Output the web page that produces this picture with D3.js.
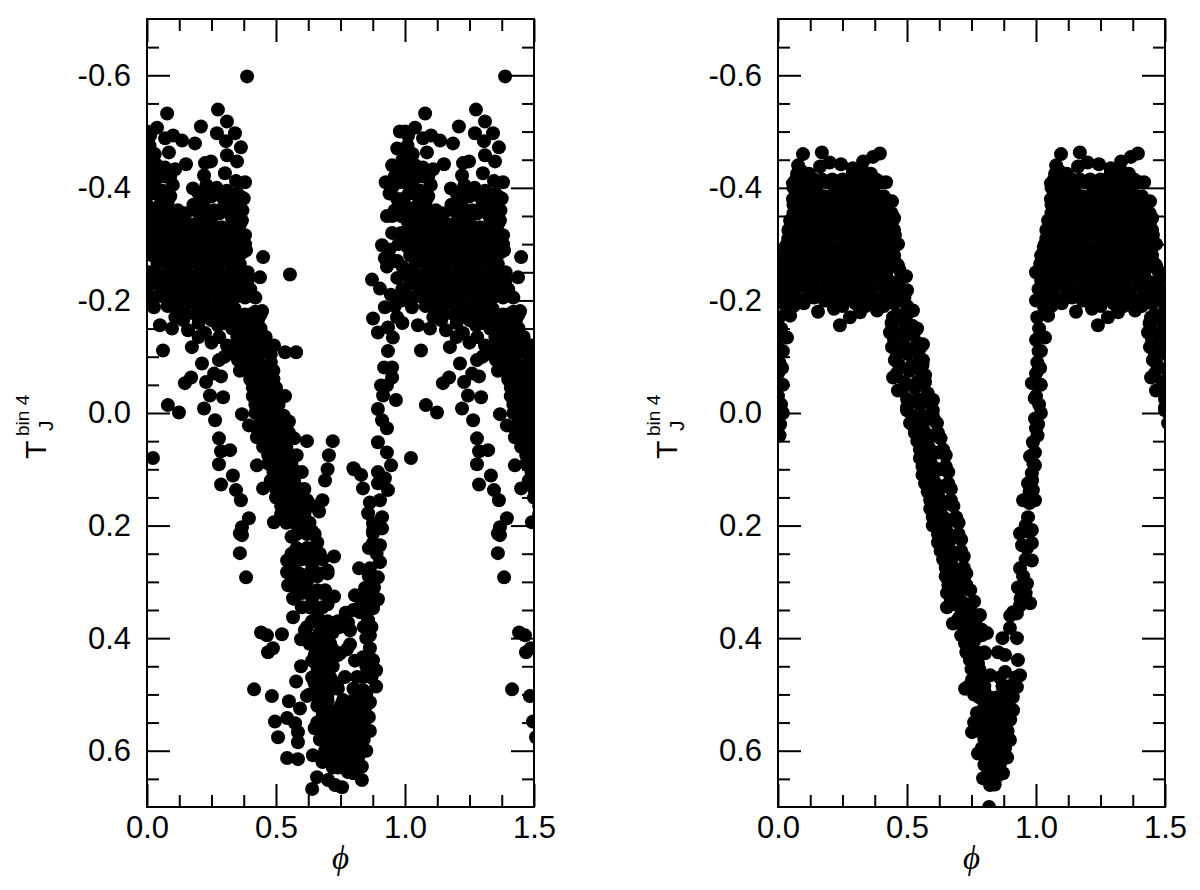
<!DOCTYPE html>
<html>
<head>
<meta charset="utf-8">
<script src="https://cdn.jsdelivr.net/npm/d3@7"></script>
<style>
html,body{margin:0;padding:0;background:#fff}
svg{display:block}
text{font-family:"Liberation Sans",Arial,sans-serif;fill:#000}
</style>
</head>
<body>
<svg id="chart" width="1200" height="890"></svg>
<script>
const leftTopScatter = [[.388,-.598],[.078,-.532],[.275,-.539],[.31,-.518],[.039,-.507],[.209,-.509],[.271,-.497],[.341,-.497],[.101,-.493],[.07,-.488],[.136,-.484],[.186,-.479],[.306,-.483],[.364,-.472],[.012,-.493],[.085,-.463],[.31,-.458],[.349,-.447],[.248,-.447],[.225,-.444],[.151,-.442],[.07,-.436],[.109,-.433],[.302,-.426],[.221,-.422],[.38,-.41],[.345,-.412],[.178,-.399],[.375,-.381],[.368,-.342],[.38,-.316],[.384,-.289],[.45,-.277],[.554,-.246],[.043,-.277],[0,-.5],[.01,-.475],[.005,-.45],[.02,-.43],[0,-.41],[.015,-.39],[.03,-.41],[.05,-.42]];
const leftBlock = [[.03,-.40],[.06,-.395],[.1,-.405],[.2,-.39],[.23,-.405],[.27,-.4],[.31,-.395],[.35,-.39],[0,-.37],[.04,-.365],[.08,-.375],[.12,-.36],[.18,-.37],[.22,-.375],[.26,-.36],[.3,-.37],[.34,-.365],[.37,-.36],[.01,-.34],[.05,-.345],[.09,-.335],[.13,-.34],[.17,-.335],[.21,-.345],[.25,-.34],[.29,-.33],[.33,-.345],[.36,-.335],[0,-.31],[.03,-.315],[.07,-.305],[.11,-.31],[.15,-.315],[.19,-.305],[.23,-.31],[.27,-.315],[.31,-.305],[.35,-.31],[.38,-.3],[.02,-.28],[.065,-.285],[.1,-.275],[.14,-.285],[.18,-.28],[.22,-.275],[.26,-.285],[.3,-.28],[.34,-.275],[.37,-.285],[.03,-.25],[.07,-.245],[.11,-.255],[.15,-.25],[.19,-.245],[.23,-.255],[.27,-.25],[.31,-.245],[.35,-.255],[.39,-.25],[0,-.22],[.05,-.225],[.09,-.215],[.13,-.22],[.17,-.215],[.21,-.225],[.25,-.22],[.29,-.215],[.33,-.225],[.08,-.19],[.12,-.185],[.16,-.195],[.2,-.19],[.24,-.185],[.28,-.195],[.32,-.19],[.01,-.2],[.005,-.25],[.015,-.315],[.11,-.17],[.14,-.165],[.2,-.16],[.25,-.165],[.3,-.16],[.34,-.15]];
const leftLowerScatter = [[.027,-.188],[.05,-.156],[.097,-.15],[.062,-.111],[.159,-.147],[.174,-.117],[.275,-.156],[.225,-.142],[.31,-.12],[.279,-.094],[.213,-.088],[.287,-.065],[.171,-.063],[.147,-.053],[.229,-.055],[.295,-.028],[.244,-.031],[.221,-.008],[.081,-.014],[.124,-.001],[.264,.013],[.368,.002],[.395,.022],[.426,.043],[.279,.045],[.287,.068],[.322,.066],[.023,.08],[.426,.093],[.279,.091],[.333,.111],[.287,.127],[.45,.134],[.345,.137],[.364,.155],[.395,.187],[.492,.194],[.368,.203],[.368,.217],[.535,-.108],[.535,-.03],[.492,-.12],[.446,-.181],[.438,-.241],[.353,-.094],[.25,-.125],[.3,-.1],[.26,-.07]];
const leftBand = [[.28,-.22],[.32,-.215],[.36,-.225],[.4,-.22],[.3,-.18],[.34,-.185],[.38,-.175],[.42,-.18],[.33,-.15],[.37,-.155],[.41,-.145],[.44,-.15],[.36,-.12],[.39,-.115],[.43,-.125],[.46,-.12],[.38,-.09],[.41,-.095],[.44,-.085],[.48,-.09],[.40,-.06],[.43,-.065],[.46,-.055],[.49,-.06],[.41,-.03],[.44,-.025],[.47,-.035],[.5,-.03],[.42,0],[.45,.005],[.48,-.005],[.51,0],[.53,.005],[.43,.03],[.46,.035],[.49,.025],[.52,.03],[.55,.035],[.45,.06],[.48,.065],[.51,.055],[.54,.06],[.47,.09],[.5,.095],[.53,.085],[.56,.09],[.48,.12],[.51,.125],[.54,.115],[.57,.12],[.5,.15],[.53,.155],[.56,.145],[.59,.15],[.62,.155],[.52,.18],[.55,.185],[.58,.175],[.61,.18],[.62,.05],[.72,.05],[.705,.075],[.70,.10],[.69,.12],[.68,.155],[.667,.175],[.80,.098],[.83,.11],[.578,-.108]];
const leftTrough = [[.36,.249],[.384,.292],[.36,.214],[.725,.255],[.442,.39],[.465,.395],[.523,.393],[.469,.425],[.488,.418],[.597,.45],[.578,.477],[.415,.491],[.484,.503],[.55,.512],[.593,.525],[.62,.503],[.496,.548],[.543,.542],[.574,.551],[.585,.567],[.508,.576],[.585,.585],[.543,.613],[.585,.615],[.643,.608],[.659,.647],[.702,.652],[.729,.661],[.756,.665],[.64,.668],[.833,.652],[.779,.638],[.833,.628],[.597,.402],[.612,.386],[.566,.363],[.566,.329],[.547,.306],[.543,.283],[.543,.262],[.903,.265],[.822,.276],[.864,.276],[.895,.292],[.845,.311],[.806,.324],[.895,.331],[.725,.326],[.876,.347],[.826,.354],[.857,.368],[.779,.372],[.864,.395],[.787,.411],[.864,.418],[.876,.439],[.888,.457],[.888,.486],[.837,.469],[.864,.514],[.853,.541],[.864,.565],[.818,.581],[.814,.604],[.876,.208],[.903,.203],[.876,.231],[.903,.235],[.66,.52],[.68,.54],[.7,.56],[.72,.53],[.74,.55],[.76,.57],[.78,.54],[.8,.56],[.82,.53],[.67,.58],[.69,.6],[.71,.59],[.73,.61],[.75,.6],[.77,.62],[.79,.6],[.81,.62],[.83,.59],[.65,.56],[.7,.51],[.75,.52],[.8,.51],[.78,.58],[.72,.57],[.68,.62],[.74,.63],[.8,.64],[.84,.56],[.83,.52],[.64,.34],[.66,.36],[.62,.38],[.68,.38],[.65,.4],[.7,.4],[.66,.42],[.68,.44],[.64,.44],[.7,.46],[.66,.46],[.72,.42],[.65,.48],[.68,.49],[.72,.48],[.63,.5],[.66,.5],[.7,.5],[.74,.37],[.56,.22],[.6,.2],[.64,.21],[.58,.24],[.62,.24],[.66,.23],[.57,.27],[.6,.26],[.64,.27],[.68,.26],[.58,.3],[.62,.3],[.66,.29],[.7,.28],[.6,.32],[.64,.33],[.68,.32],[.57,.33],[.66,.35],[.7,.34],[.75,.38],[.787,.386],[.84,.38],[.748,.427],[.837,.434],[.775,.42],[.806,.44],[.767,.469],[.814,.469],[.736,.48],[.837,.492],[.76,.51],[.8,.49],[.77,.355],[.8,.35],[.84,.35]];
const leftRise = [[.911,-.298],[.922,-.275],[.872,-.237],[.903,-.221],[.922,-.188],[.969,-.17],[.876,-.168],[.895,-.143],[.934,-.152],[.953,-.134],[.934,-.11],[.919,-.081],[.95,-.081],[.95,-.063],[.907,-.049],[.93,-.049],[.915,-.031],[.965,-.023],[.895,-.007],[.911,.013],[.93,.027],[.895,.052],[.93,.07],[.946,.093],[.802,.1],[.895,.105],[.922,.116],[.837,.134],[.934,.137],[.895,.125],[.864,.159],[.903,.155],[.857,.178],[.911,.185],[.876,.196],[.911,.205],[.876,.214],[.925,-.41],[.94,-.39],[.95,-.44],[.97,-.47],[.98,-.5],[.96,-.36],[.93,-.35],[.95,-.32],[.975,-.3],[.98,-.41],[.99,-.45],[.985,-.35],[.99,-.26],[.96,-.27],[.93,-.26],[.945,-.21],[.985,-.2],[.99,-.16],[.95,-.4],[.97,-.38],[.95,-.35],[.97,-.27],[.985,-.32],[.99,-.38],[.96,-.42],[.98,-.44],[.97,-.24],[.94,-.29],[.96,-.19],[.99,-.22],[.86,.24],[.89,.25],[.86,.29],[.88,.31],[.85,.33],[.83,.335],[.88,.33],[.85,.34],[.85,.4],[.87,.38],[.85,.45],[.87,.47],[.85,.5],[.83,.5],[.85,.52],[.86,.54],[.84,.58],[.85,.6]];
// Further measurements of the dense regions, one row per T level: [T, [phases]].
const leftDenseRows = [[-.46,[.01,.03]],[-.44,[.02,.04]],[-.42,[0,.02,.07,.09]],[-.385,[.05,.09,.21,.25,.29,.33,.36]],[-.355,[.02,.06,.1,.15,.2,.24,.28,.32,.36]],[-.325,[.03,.07,.11,.15,.19,.23,.27,.31,.35]],[-.295,[.01,.05,.09,.13,.17,.21,.25,.29,.33,.37]],[-.265,[.04,.08,.12,.16,.2,.24,.28,.32,.36]],[-.235,[.02,.07,.11,.15,.19,.23,.27,.31,.35,.39]],[-.205,[.03,.07,.11,.15,.19,.23,.27,.31,.34,.38,.42]],[-.175,[.15,.19,.23,.27,.31,.35,.4,.44]],[-.165,[.32,.36,.4,.43]],[-.135,[.2,.28,.35,.39,.43,.46]],[-.105,[.33,.37,.41,.44,.48]],[-.075,[.36,.39,.42,.45,.49]],[-.045,[.41,.44,.47,.5]],[-.015,[.42,.45,.48,.51]],[.015,[.44,.47,.5,.53,.55]],[.045,[.45,.48,.51,.54,.57]],[.075,[.47,.5,.53,.56,.58]],[.105,[.49,.52,.55,.58,.6]],[.135,[.5,.53,.56,.59,.61]],[.165,[.52,.55,.58,.61,.64]],[.195,[.54,.57,.6,.63]],[.215,[.58,.62,.65]],[.25,[.56,.6,.63,.67]],[.285,[.56,.59,.63,.67,.7]],[.315,[.58,.62,.66,.69]],[.345,[.6,.63,.68]],[.37,[.64,.67,.7]],[.39,[.67,.72]],[.41,[.63,.68,.71]],[.43,[.65,.7,.74]],[.45,[.66,.69,.72]],[.47,[.64,.68,.71]],[.49,[.66,.7,.74]],[.53,[.68,.7,.74,.77,.79,.81]],[.55,[.66,.7,.72,.76,.8,.83]],[.57,[.68,.71,.75,.79,.82]],[.59,[.7,.74,.77,.8]],[.61,[.7,.72,.76,.8,.82]],[.63,[.72,.76,.78]]];

const rightEdge = [[.097,-.46],[.17,-.463],[.078,-.44],[.074,-.425],[.163,-.438],[.2,-.445],[.244,-.442],[.33,-.447],[.395,-.461],[.368,-.455],[.29,-.427],[.419,-.41],[.442,-.376],[.45,-.346],[.453,-.316],[.465,-.3],[.465,-.262],[.496,-.243],[.5,-.218],[.523,-.182],[.539,-.15],[.562,-.122],[.562,-.094],[.57,-.067],[.601,-.023],[.616,.018],[.434,-.143],[.442,-.117],[.453,-.094],[.446,-.063],[.465,-.04],[.5,-.005],[.512,.018],[.155,-.18],[.217,-.185],[.24,-.156],[.279,-.17],[.318,-.179],[.384,-.182],[.446,-.17],[.074,-.196],[.132,-.209],[.047,-.173],[.035,-.134],[.019,-.11],[.016,-.08],[.019,-.05],[.019,0],[.008,.02],[.058,-.408],[.058,-.38],[.047,-.342],[.035,-.3],[.016,-.265],[0,-.2],[.005,-.17],[.012,-.15],[0,-.13],[.01,-.11],[.005,-.09],[0,-.07],[.008,-.05],[0,-.03],[.012,-.015],[0,.01],[.006,.04],[.012,-.08],[.02,-.24],[.03,-.19]];
const rightBlock = [[.09,-.43],[.12,-.425],[.29,-.435],[.33,-.43],[.36,-.425],[.06,-.4],[.09,-.405],[.12,-.395],[.15,-.4],[.19,-.41],[.22,-.4],[.26,-.395],[.3,-.405],[.33,-.4],[.37,-.395],[.4,-.41],[.06,-.37],[.1,-.365],[.13,-.375],[.17,-.37],[.2,-.365],[.24,-.375],[.27,-.37],[.31,-.365],[.34,-.375],[.38,-.37],[.42,-.375],[.05,-.34],[.08,-.345],[.12,-.335],[.15,-.34],[.19,-.345],[.22,-.335],[.26,-.34],[.29,-.345],[.33,-.335],[.36,-.34],[.4,-.345],[.44,-.335],[.04,-.31],[.07,-.305],[.11,-.315],[.14,-.31],[.18,-.305],[.21,-.315],[.25,-.31],[.28,-.305],[.32,-.315],[.35,-.31],[.39,-.305],[.43,-.315],[.02,-.28],[.06,-.285],[.09,-.275],[.13,-.28],[.16,-.285],[.2,-.275],[.23,-.28],[.27,-.285],[.3,-.275],[.34,-.28],[.37,-.285],[.41,-.275],[.45,-.28],[0,-.25],[.03,-.255],[.07,-.245],[.1,-.25],[.14,-.255],[.17,-.245],[.21,-.25],[.24,-.255],[.28,-.245],[.31,-.25],[.35,-.255],[.38,-.245],[.42,-.25],[.47,-.255],[.01,-.22],[.05,-.215],[.08,-.225],[.12,-.22],[.15,-.215],[.19,-.225],[.22,-.22],[.26,-.215],[.29,-.225],[.33,-.22],[.36,-.215],[.4,-.225],[.44,-.22],[.48,-.215],[.06,-.19],[.1,-.195],[.18,-.2],[.21,-.195],[.25,-.19],[.3,-.195],[.34,-.19],[.37,-.195],[.41,-.19],[.45,-.195],[.5,-.19]];
const rightFall = [[.44,-.16],[.48,-.165],[.52,-.155],[.45,-.13],[.49,-.135],[.54,-.125],[.46,-.1],[.5,-.105],[.55,-.095],[.46,-.07],[.51,-.075],[.56,-.065],[.48,-.04],[.53,-.045],[.58,-.035],[.5,-.01],[.55,-.015],[.6,-.005],[.52,.02],[.56,.025],[.61,.015],[.54,.05],[.58,.055],[.63,.045],[.55,.08],[.59,.085],[.65,.075],[.56,.11],[.6,.115],[.66,.105],[.58,.14],[.62,.145],[.67,.135],[.59,.17],[.63,.175],[.68,.165],[.6,.2],[.65,.205],[.7,.195],[.62,.23],[.66,.235],[.71,.225],[.64,.26],[.67,.265],[.72,.255],[.65,.29],[.69,.295],[.73,.285],[.655,.32],[.7,.325],[.745,.315],[.655,.345],[.71,.35],[.75,.355],[.783,.359],[.678,.374],[.72,.38],[.76,.375],[.79,.385],[.725,.409],[.76,.405],[.81,.391],[.744,.439],[.775,.445],[.802,.427]];
const rightFallCentre = [[.505,-.14],[.52,-.11],[.53,-.08],[.555,-.05],[.575,-.02],[.585,.01],[.6,.04],[.62,.07],[.63,.1],[.64,.13],[.655,.16],[.67,.19],[.685,.22],[.695,.25],[.705,.28],[.715,.31],[.73,.34],[.75,.37],[.565,.04],[.575,.07],[.585,.1],[.6,.13],[.615,.16],[.625,.19],[.64,.22],[.655,.25],[.67,.28],[.68,.31],[.69,.34]];
const rightBottom = [[.725,.49],[.752,.474],[.79,.47],[.822,.466],[.86,.47],[.88,.46],[.92,.47],[.938,.466],[.76,.5],[.8,.495],[.88,.49],[.926,.487],[.771,.533],[.8,.52],[.83,.525],[.86,.515],[.89,.52],[.911,.528],[.76,.55],[.79,.555],[.82,.545],[.85,.55],[.88,.555],[.9,.545],[.752,.567],[.8,.58],[.83,.585],[.86,.575],[.899,.581],[.775,.605],[.81,.61],[.84,.605],[.87,.615],[.888,.612],[.795,.649],[.83,.635],[.86,.64],[.872,.64],[.822,.661],[.84,.66],[.818,.7],[.93,.439],[.926,.4],[.899,.382],[.853,.425],[.88,.43],[.87,.4],[.926,.356],[.9,.36],[.911,.354],[.938,.342],[.977,.338],[.93,.31],[.965,.303],[.938,.276],[.984,.262],[.946,.235],[.984,.231],[.938,.214],[.984,.208],[.969,.185],[.95,.155],[.996,.155],[.988,.137],[.969,.125],[.984,.107],[.996,.093],[.977,.077],[.988,.052],[.996,.07],[1,.027],[.996,.01],[.984,-.053],[.995,-.026],[.96,.32],[.95,.29],[.96,.26],[.965,.24],[.97,.21],[.96,.2],[.975,.16],[.985,.12],[.99,.09],[.975,.14],[.95,.31],[.94,.33]];
const rightDenseRows = [[-.415,[.07,.1,.14,.17,.21,.25,.28,.31,.35,.38]],[-.385,[.07,.11,.14,.18,.21,.25,.28,.32,.35,.39,.41]],[-.355,[.06,.09,.13,.16,.2,.23,.27,.3,.34,.37,.41,.44]],[-.325,[.04,.08,.11,.15,.18,.22,.25,.29,.32,.36,.39,.43,.45]],[-.295,[.03,.06,.1,.13,.17,.2,.24,.27,.31,.34,.38,.41,.45]],[-.265,[.02,.05,.09,.12,.16,.19,.23,.26,.3,.33,.37,.4,.44,.46]],[-.235,[.02,.04,.07,.11,.14,.18,.21,.25,.28,.32,.35,.39,.43,.47]],[-.205,[.03,.07,.11,.14,.18,.22,.26,.3,.33,.37,.41,.45,.49]],[-.175,[.46,.5]],[-.145,[.45,.49,.53]],[-.115,[.46,.5,.55]],[-.085,[.47,.52,.56]],[-.055,[.49,.54,.57]],[-.025,[.5,.54,.59]],[.005,[.52,.56,.6]],[.035,[.53,.57,.62]],[.065,[.55,.59,.64]],[.095,[.56,.6,.65]],[.125,[.57,.61,.66]],[.155,[.59,.63,.67]],[.185,[.6,.64,.69]],[.215,[.62,.66,.7]],[.245,[.63,.67,.71]],[.275,[.65,.68,.72]],[.305,[.66,.7,.73]],[.335,[.67,.71,.76]],[.365,[.7,.74,.77]],[.395,[.71,.75,.79]],[.425,[.73,.77,.8]],[.455,[.75,.78]],[.485,[.74,.78,.8,.87,.9]],[.505,[.78,.82,.85,.88,.91]],[.535,[.78,.82,.85,.88]],[.565,[.78,.81,.84,.87,.89]],[.595,[.79,.82,.85,.88]],[.625,[.8,.83,.86]],[.645,[.81,.85]]];

const phaseTicksMajor = [0, 0.5, 1.0, 1.5];
const phaseTicksMinor = [0.125,0.25,0.375,0.625,0.75,0.875,1.125,1.25,1.375];
const tTicksMajor = [-0.6,-0.4,-0.2,0,0.2,0.4,0.6];
const tTicksMinor = [-0.65,-0.55,-0.5,-0.45,-0.35,-0.3,-0.25,-0.15,-0.1,-0.05,0.05,0.1,0.15,0.25,0.3,0.35,0.45,0.5,0.55,0.65];

const expandRows = rows => rows.flatMap(([t,ps]) => ps.map(p => [p,t]));
const leftSeries = [...leftTopScatter,...leftBlock,...leftLowerScatter,...leftBand,...leftTrough,...leftRise,...expandRows(leftDenseRows)];
const rightSeries = [...rightEdge,...rightBlock,...rightFall,...rightFallCentre,...rightBottom,...expandRows(rightDenseRows)];

const svg = d3.select("#chart");
const plotTop = 19, plotBottom = 807, tickFont = 31;
const yScale = d3.scaleLinear().domain([-0.7,0.7]).range([plotTop,plotBottom]);
const fmt = v => d3.format(".1f")(v).replace("\u2212","-");

function panel(id, x0, x1, series){
  const x = d3.scaleLinear().domain([0,1.5]).range([x0,x1]);
  const y = yScale;
  const g = svg.append("g");
  g.append("clipPath").attr("id",id).append("rect")
    .attr("x",x0).attr("y",plotTop).attr("width",x1-x0).attr("height",plotBottom-plotTop);
  const folded = series.concat(series.filter(d=>d[0]<=0.53).map(d=>[d[0]+1,d[1]]));
  g.append("g").attr("clip-path",`url(#${id})`).selectAll("circle").data(folded).join("circle")
    .attr("cx",d=>x(d[0])).attr("cy",d=>y(d[1])).attr("r",7).attr("fill","#000");
  g.append("rect").attr("x",x0).attr("y",plotTop).attr("width",x1-x0).attr("height",plotBottom-plotTop)
    .attr("fill","none").attr("stroke","#000").attr("stroke-width",2);

  const axes = [
    [d3.axisBottom(x).tickValues(phaseTicksMajor).tickSize(-23).tickSizeOuter(0), `translate(0,${plotBottom})`, 9],
    [d3.axisBottom(x).tickValues(phaseTicksMinor).tickSize(-12).tickSizeOuter(0).tickFormat(""), `translate(0,${plotBottom})`, 0],
    [d3.axisTop(x).tickValues(phaseTicksMajor).tickSize(-23).tickSizeOuter(0).tickFormat(""), `translate(0,${plotTop})`, 0],
    [d3.axisTop(x).tickValues(phaseTicksMinor).tickSize(-12).tickSizeOuter(0).tickFormat(""), `translate(0,${plotTop})`, 0],
    [d3.axisLeft(y).tickValues(tTicksMajor).tickSize(-23).tickSizeOuter(0), `translate(${x0},0)`, 16],
    [d3.axisLeft(y).tickValues(tTicksMinor).tickSize(-12).tickSizeOuter(0).tickFormat(""), `translate(${x0},0)`, 0],
    [d3.axisRight(y).tickValues(tTicksMajor).tickSize(-23).tickSizeOuter(0).tickFormat(""), `translate(${x1},0)`, 0],
    [d3.axisRight(y).tickValues(tTicksMinor).tickSize(-12).tickSizeOuter(0).tickFormat(""), `translate(${x1},0)`, 0]
  ];
  axes.forEach(([axis,tr,pad])=>{
    if(pad) axis.tickFormat(fmt).tickPadding(pad);
    const a = g.append("g").attr("transform",tr).call(axis);
    a.select(".domain").remove();
    a.selectAll("line").attr("stroke","#000").attr("stroke-width",2);
    a.selectAll("text").attr("font-size",tickFont).attr("font-family",'"Liberation Sans",Arial,sans-serif').attr("fill","#000");
  });

  g.append("text").attr("x",(x0+x1)/2).attr("y",869).attr("text-anchor","middle")
    .attr("font-size",33).attr("font-style","italic")
    .style("font-family",'"Liberation Serif",serif').text("\u03d5");

  const lx = x0-147;
  g.append("text").attr("transform",`translate(${46+lx},459) rotate(-90)`).attr("font-size",30).text("T");
  g.append("text").attr("transform",`translate(${29+lx},436) rotate(-90)`).attr("font-size",19).text("bin 4");
  g.append("text").attr("transform",`translate(${53+lx},431) rotate(-90)`).attr("font-size",21).text("J");
}
panel("clipL",147,534,leftSeries);
panel("clipR",778,1165,rightSeries);
</script>
</body>
</html>
